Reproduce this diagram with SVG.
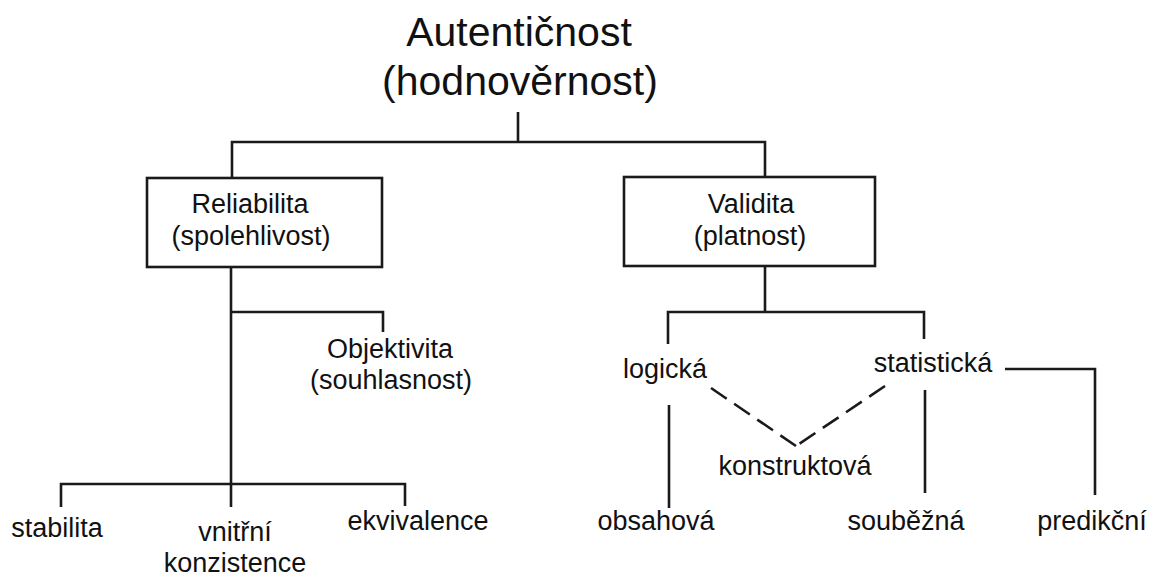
<svg xmlns="http://www.w3.org/2000/svg" width="1153" height="576" viewBox="0 0 1153 576">
  <style>
    text { font-family: "Liberation Sans", Arial, sans-serif; fill: #111; text-anchor: middle; }
    .title { font-size: 41px; }
    .lbl { font-size: 27px; }
    .ln { fill: none; stroke: #1a1a1a; stroke-width: 2.6; stroke-linecap: butt; stroke-linejoin: miter; }
    .dash { stroke-dasharray: 19 9; }
    .box { fill: #fff; stroke: #1a1a1a; stroke-width: 2.6; }
  </style>
  <rect width="1153" height="576" fill="#fff"/>

  <g id="connectors">
    <!-- root to the two boxes -->
    <path class="ln" d="M518 112 V142 M232 178 V142 H765 V177"/>
    <!-- Reliabilita subtree -->
    <path class="ln" d="M231 267 V507 M231 312 H383 V332"/>
    <path class="ln" d="M61 507 V484 H405 V506"/>
    <!-- Validita subtree -->
    <path class="ln" d="M765 266 V312 M668 344 V312 H924 V339"/>
    <path class="ln" d="M1005 369 H1095 V495"/>
    <path class="ln" d="M669 405 V508"/>
    <path class="ln" d="M925 390 V493"/>
    <!-- dashed links to konstruktová -->
    <path class="ln dash" d="M711 388 L796 446"/>
    <path class="ln dash" d="M885 386 L796 446"/>
  </g>

  <g id="autenticnost">
    <text class="title" x="519" y="46">Autentičnost</text>
    <text class="title" x="520" y="95">(hodnověrnost)</text>
  </g>

  <g id="reliabilita">
    <rect class="box" x="147" y="178" width="235" height="89"/>
    <text class="lbl" x="250" y="213">Reliabilita</text>
    <text class="lbl" x="251" y="245">(spolehlivost)</text>
  </g>

  <g id="validita">
    <rect class="box" x="624" y="177" width="251" height="89"/>
    <text class="lbl" x="751" y="213">Validita</text>
    <text class="lbl" x="750" y="245">(platnost)</text>
  </g>

  <g id="objektivita">
    <text class="lbl" x="390" y="358">Objektivita</text>
    <text class="lbl" x="391" y="389">(souhlasnost)</text>
  </g>

  <g id="stabilita"><text class="lbl" x="57" y="537">stabilita</text></g>
  <g id="vnitrni-konzistence">
    <text class="lbl" x="235" y="541">vnitřní</text>
    <text class="lbl" x="235" y="572">konzistence</text>
  </g>
  <g id="ekvivalence"><text class="lbl" x="418" y="530">ekvivalence</text></g>

  <g id="logicka"><text class="lbl" x="665" y="378">logická</text></g>
  <g id="statisticka"><text class="lbl" x="933" y="372">statistická</text></g>
  <g id="konstruktova"><text class="lbl" x="795" y="475">konstruktová</text></g>
  <g id="obsahova"><text class="lbl" x="656" y="530">obsahová</text></g>
  <g id="soubezna"><text class="lbl" x="906" y="530">souběžná</text></g>
  <g id="predikcni"><text class="lbl" x="1092" y="530">predikční</text></g>
</svg>
